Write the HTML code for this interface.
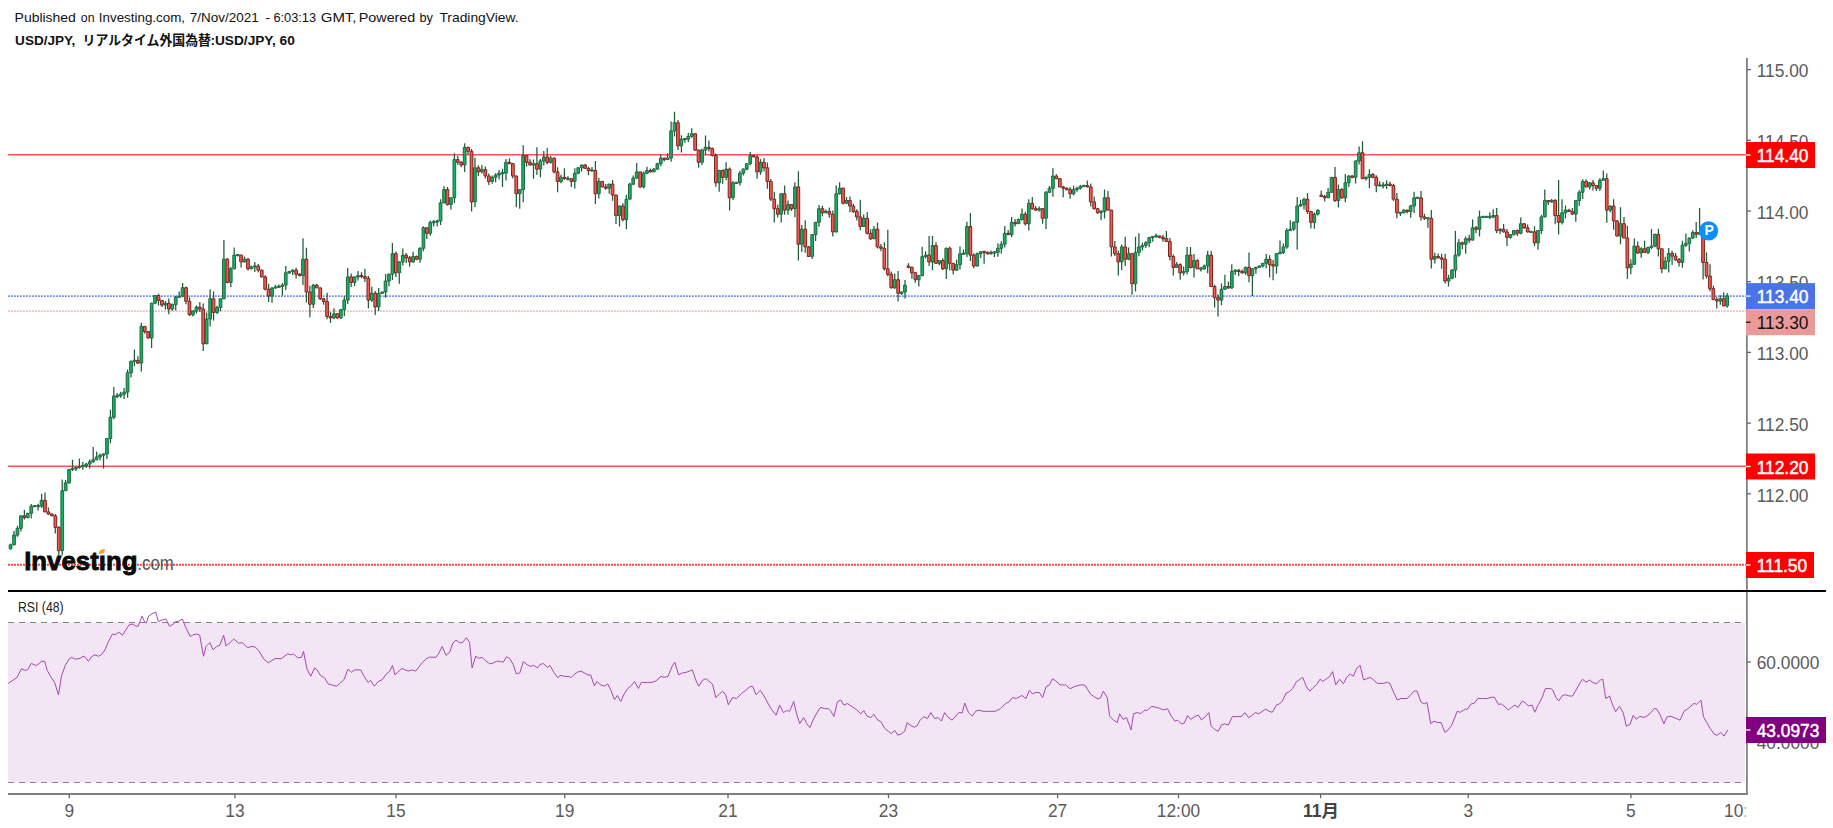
<!DOCTYPE html>
<html lang="ja"><head><meta charset="utf-8"><title>USD/JPY</title>
<style>html,body{margin:0;padding:0;background:#fff}body{width:1833px;height:828px;overflow:hidden}</style></head>
<body>
<svg width="1833" height="828" viewBox="0 0 1833 828" style="display:block">
<rect width="1833" height="828" fill="#fff"/>
<text y="22" font-family='"Liberation Sans", sans-serif' font-size="13.33" fill="#111"><tspan x="14.6" textLength="61.3" lengthAdjust="spacingAndGlyphs">Published</tspan> <tspan x="80.8" textLength="13.7" lengthAdjust="spacingAndGlyphs">on</tspan> <tspan x="98.8" textLength="86.3" lengthAdjust="spacingAndGlyphs">Investing.com,</tspan> <tspan x="189.8" textLength="69.0" lengthAdjust="spacingAndGlyphs">7/Nov/2021</tspan> <tspan x="265.2" textLength="4.8" lengthAdjust="spacingAndGlyphs">-</tspan> <tspan x="273.4" textLength="42.7" lengthAdjust="spacingAndGlyphs">6:03:13</tspan> <tspan x="320.8" textLength="35.7" lengthAdjust="spacingAndGlyphs">GMT,</tspan> <tspan x="358.8" textLength="56.5" lengthAdjust="spacingAndGlyphs">Powered</tspan> <tspan x="419.4" textLength="13.4" lengthAdjust="spacingAndGlyphs">by</tspan> <tspan x="439.4" textLength="79.2" lengthAdjust="spacingAndGlyphs">TradingView.</tspan></text>
<text y="44.8" font-family='"Liberation Sans", "Noto Sans CJK JP", sans-serif' font-weight="bold" font-size="13.1" fill="#111"><tspan x="15.1" textLength="60.3" lengthAdjust="spacingAndGlyphs">USD/JPY,</tspan> <tspan x="82.6" textLength="128.3" lengthAdjust="spacingAndGlyphs">リアルタイム外国為替</tspan><tspan x="210.4" textLength="84.4" lengthAdjust="spacingAndGlyphs">:USD/JPY, 60</tspan></text>
<line x1="8" x2="1746" y1="154.7" y2="154.7" stroke="#ff5353" stroke-width="1.4"/>
<line x1="8" x2="1746" y1="466.3" y2="466.3" stroke="#ff5353" stroke-width="1.4"/>
<line x1="8" x2="1746" y1="564.8" y2="564.8" stroke="#ff3c3c" stroke-width="2" stroke-dasharray="1.9 1.1"/>
<line x1="8" x2="1746" y1="296.1" y2="296.1" stroke="#6e8eec" stroke-width="1.8" stroke-dasharray="1.8 1.2"/>
<line x1="8" x2="1746" y1="311.1" y2="311.1" stroke="#f2bcbc" stroke-width="1.8" stroke-dasharray="1.8 1.2"/>
<path d="M10.6 543.5V549.4M14 531.1V545.2M17.5 525.7V536.7M20.9 515.4V531.5M24.4 510V519.4M27.8 513V518.2M31.2 504.1V518.6M34.7 505.7V506.8M38.1 503.7V510.6M41.6 493.8V507.9M45 492.4V512.3M48.4 507.6V515M51.9 513.5V516.3M55.3 514.3V533.5M58.8 526.3V555.7M62.2 479.4V555.5M65.6 479.9V491.1M69.1 469V483.8M72.5 459.7V470.9M76 466.4V471M79.4 458.6V468.5M82.8 461.9V469.8M86.3 463.1V467.9M89.7 459.5V468.4M93.2 447V462.7M96.6 451.6V460.3M100 453.7V460.6M103.5 453.4V468.6M106.9 438.1V459M110.4 409.8V443.2M113.8 386.9V419.2M117.2 393.1V398.2M120.7 391.7V397.7M124.1 387.9V399.1M127.6 369.4V397.7M131 360.8V377.6M134.4 349.6V366.2M137.9 356.2V364.1M141.3 322.7V371.6M144.8 326.1V333.7M148.2 330.9V338.5M151.6 302.7V348.1M155.1 294.9V304.2M158.5 293.8V305.5M162 300V307.1M165.4 300.9V309.6M168.8 298.4V314.2M172.3 303.5V310.7M175.7 295.8V310.4M179.2 291.4V297.9M182.6 283.1V297.2M186 286.6V304.2M189.5 297.3V316.1M192.9 310.6V316.5M196.4 305.6V313.5M199.8 302.1V312.1M203.2 303.5V351M206.7 312.4V344.2M210.1 289.5V326.4M213.6 291.5V320.6M217 305.8V314.1M220.4 298.3V311.2M223.9 240.1V299.3M227.3 258V283.3M230.8 266.9V287.3M234.2 247.5V269.5M237.6 254.7V256.3M241.1 254.8V267.5M244.5 256.5V262.5M248 258.1V270.4M251.4 265.6V269.2M254.8 262.1V272M258.3 264V272.2M261.7 269.7V277.4M265.2 275.2V290.5M268.6 284.1V302.1M272 287.5V302.8M275.5 285.1V288.4M278.9 284.4V287.4M282.4 283.1V295.5M285.8 266.1V290M289.2 270.7V274.1M292.7 269.5V275.1M296.1 267.7V278.4M299.6 273.1V276.3M303 238.2V285.1M306.4 247.8V302.4M309.9 285.7V317.3M313.3 283.9V308.1M316.8 283.8V288.2M320.2 287.5V300.1M323.6 297.9V304.8M327.1 292.8V319.3M330.5 311.8V323M334 308.2V319.3M337.4 313V318.7M340.8 308.9V318.7M344.3 296.4V316.2M347.7 268V304M351.2 273.5V287M354.6 276.5V285.9M358 271.1V280.6M361.5 272.3V278.3M364.9 268.8V282.1M368.4 276.1V308.2M371.8 286.8V301.9M375.2 291V315.1M378.7 287.9V311.1M382.1 291.5V293.9M385.6 274.1V297.8M389 273.6V286.2M392.4 243.1V280M395.9 251.5V277.1M399.3 261.3V283.8M402.8 248.6V265.5M406.2 252.9V262.9M409.6 256V266.8M413.1 251.7V262.7M416.5 255.6V260.2M420 247.2V262.8M423.4 226.3V251.2M426.8 227.3V238.9M430.3 220.6V235.8M433.7 219.9V226.6M437.2 219.5V226.6M440.6 199.3V224.9M444 186.3V203.2M447.5 186.9V205.5M450.9 197.5V209.5M454.4 153.6V202.9M457.8 156.1V164.7M461.2 161.1V167.2M464.7 143.2V172M468.1 146.8V153.9M471.6 148.9V211.4M475 157.7V207.2M478.4 165.2V175.9M481.9 165V173.6M485.3 166.5V178.4M488.8 173.6V185.1M492.2 175.4V183.8M495.6 173.2V182.3M499.1 170.1V179.5M502.5 168.8V186.9M506 158.9V180.6M509.4 158.3V164.2M512.8 163.1V178.5M516.3 175.5V207.3M519.7 189.2V208.7M523.2 145.2V202.3M526.6 154.9V166.5M530 159.3V165.6M533.5 159.4V178.7M536.9 147.3V175.1M540.4 159.1V177.3M543.8 150.9V165.5M547.2 148.1V164.2M550.7 155.9V163.6M554.1 157.3V173.5M557.6 167.2V192.3M561 174.8V183.3M564.4 168.3V179.8M567.9 176.3V180.5M571.3 178.3V186.9M574.8 168.2V188.4M578.2 167.3V174.3M581.6 164.7V171.6M585.1 164.1V168.9M588.5 166.8V175.2M592 166.9V171.3M595.4 160.9V204M598.8 177.8V198.6M602.3 181V187.2M605.7 183.9V189.8M609.2 183.8V193.7M612.6 180.1V200.8M616 194.6V224.1M619.5 205.6V226.5M622.9 203.3V221.5M626.4 194.7V229.3M629.8 182.8V199.8M633.2 175.5V185.1M636.7 162.9V178.7M640.1 171.5V187.9M643.6 171.6V188.5M647 166.8V174.3M650.4 168.6V172.5M653.9 167.9V172.2M657.3 162.7V169.4M660.8 154.2V166.3M664.2 157.6V161.4M667.6 153.3V160M671.1 121.4V161.7M674.5 111.8V136.4M678 119.9V150.1M681.4 135.2V152.6M684.8 138V142.8M688.3 133V142M691.7 128.2V137.7M695.2 133.3V150.7M698.6 149.6V167.7M702 148.8V165M705.5 135.6V154.4M708.9 140.5V151.6M712.4 147.5V156.5M715.8 153.4V186.7M719.2 169.8V191.8M722.7 169.4V183.8M726.1 162.2V180.3M729.6 167.5V210.5M733 181.1V199.8M736.4 182.5V184M739.9 170.7V185.5M743.3 168.4V175.4M746.8 163.4V170.2M750.2 151.9V165.6M753.6 155.2V157.2M757.1 155.2V178.7M760.5 158.9V174.8M764 158.1V171.2M767.4 162.4V188.7M770.8 178.9V201.1M774.3 191.7V222.4M777.7 204.7V217.5M781.2 193.3V222.4M784.6 185.6V214.8M788 200.6V214.8M791.5 204.1V211M794.9 182.2V217.3M798.4 171.3V260.5M801.8 225.1V252M805.2 220.2V252.7M808.7 245.9V256.8M812.1 233.9V258.9M815.6 221.8V241.1M819 205V226.7M822.4 205.7V216.2M825.9 209.6V213.1M829.3 207.4V217.8M832.8 210.6V236.6M836.2 185.2V232.4M839.6 182.2V194.7M843.1 187.8V204.6M846.5 197V204M850 196.4V212.2M853.4 203.7V213.1M856.8 209.3V220.5M860.3 199.7V230.2M863.7 214.5V226.9M867.2 212V234.6M870.6 229.2V239.9M874 225.9V239M877.5 222.4V248.4M880.9 244V251.3M884.4 242.3V270.5M887.8 229.7V276.3M891.2 271.4V288.4M894.7 273.6V288.7M898.1 271.1V301.4M901.6 291.6V295M905 280.1V298.5M908.4 263.3V268.3M911.9 266.6V278.8M915.3 272V282.7M918.8 275V286.5M922.2 246.7V276.3M925.6 251.2V258.4M929.1 236V266M932.5 236V270.2M936 242.2V263.6M939.4 260.3V265.3M942.8 258.3V270.1M946.3 247.5V278.9M949.7 246.6V270.4M953.2 263V274.6M956.6 259.7V270.6M960 246.6V269.5M963.5 249.6V254.7M966.9 221.8V256.9M970.4 213.1V261M973.8 253.3V268.3M977.2 252.4V266.4M980.7 251.3V257.9M984.1 250.8V263.8M987.6 251.5V254.6M991 250.4V254.4M994.4 251.1V256.9M997.9 243.3V256.8M1001.3 241.2V253.5M1004.8 225.9V247.5M1008.2 230.1V235M1011.6 217.1V237.2M1015.1 218.9V226.5M1018.5 218.6V224.1M1022 208.4V220.2M1025.4 211.7V225.4M1028.8 199.2V230.6M1032.3 197V209.7M1035.7 205.9V211.1M1039.2 206.5V211.5M1042.6 208V223.7M1046 191V229M1049.5 186.1V193.1M1052.9 168.3V196.7M1056.4 174.2V179.2M1059.8 177.9V187.3M1063.2 185.7V197.2M1066.7 187.4V190.5M1070.1 187V198.7M1073.6 185.7V195.4M1077 186.7V191.7M1080.4 185V189.4M1083.9 185.2V187.2M1087.3 180.6V187.4M1090.8 183.6V206.5M1094.2 196.4V209.6M1097.6 207.7V213.7M1101.1 210V220.2M1104.5 189.5V218.4M1108 190.9V210.4M1111.4 209.7V256.5M1114.8 241.1V256M1118.3 250.5V275.6M1121.7 244.6V270.2M1125.2 236.8V265.9M1128.6 247.6V260.2M1132 253.1V294.7M1135.5 236.8V291.6M1138.9 233.3V256.3M1142.4 242.8V250.4M1145.8 241V247.9M1149.2 237V247.3M1152.7 235.9V241.8M1156.1 233.4V237.7M1159.6 235.5V238.2M1163 234.7V241.8M1166.4 231.1V241.8M1169.9 238V260.6M1173.3 254.5V275.6M1176.8 262V267.7M1180.2 263.3V279.7M1183.6 266.6V275.6M1187.1 247.1V274.6M1190.5 246.9V268.6M1194 254.1V277.5M1197.4 259.2V269.1M1200.8 267V271.5M1204.3 264.4V269.7M1207.7 250.7V273.2M1211.2 251V286.9M1214.6 284.8V307.5M1218 294.2V316.5M1221.5 283.5V305.2M1224.9 274.8V289.9M1228.4 281.5V288.9M1231.8 264.3V289.1M1235.2 269.4V275M1238.7 269.1V276.3M1242.1 269.6V273.5M1245.6 266.5V274.7M1249 252.4V282.3M1252.4 268.2V296M1255.9 266.7V273.8M1259.3 265.5V267.7M1262.8 262.9V267.5M1266.2 254.1V268.3M1269.6 255.2V277.5M1273.1 260V280.2M1276.5 252.9V273.7M1280 240.6V254.1M1283.4 243.4V254M1286.8 228.3V248.8M1290.3 220.2V230.8M1293.7 221.2V230.7M1297.2 196.9V249.7M1300.6 199.7V206.7M1304 197.7V209.4M1307.5 192.9V213.9M1310.9 211.1V228.4M1314.4 212.4V228.7M1317.8 209.4V215.6M1321.2 190.6V196.7M1324.7 194.9V201.6M1328.1 188V198.1M1331.6 177V192.7M1335 167V202.1M1338.4 184.4V207.4M1341.9 188.1V199M1345.3 174.1V202.3M1348.8 174.9V186.9M1352.2 174.9V178.2M1355.6 160.6V183.6M1359.1 146.4V164.6M1362.5 141.3V179M1366 176.5V180.5M1369.4 169.3V188.2M1372.8 173.1V178.2M1376.3 175.2V192.3M1379.7 181.2V186.1M1383.2 182V188.6M1386.6 180.3V189.1M1390 181.6V186.6M1393.5 183.8V201.1M1396.9 193.1V218.3M1400.4 212.2V216M1403.8 209.2V213.2M1407.2 209.8V213.6M1410.7 204.7V217.7M1414.1 191.8V213.1M1417.6 197V198.2M1421 191V220.6M1424.4 213.8V219.9M1427.9 217.5V227.8M1431.3 210.1V268.4M1434.8 252.8V263.6M1438.2 253.6V258.3M1441.6 253.8V268.8M1445.1 253.7V283.6M1448.5 274.7V286.5M1452 269.1V279.3M1455.4 231.1V277.8M1458.8 239.1V256.8M1462.3 241.4V249.3M1465.7 236.4V253.7M1469.2 234.9V242.9M1472.6 219.5V240.6M1476 226V233M1479.5 210.4V236.6M1482.9 216.6V217.8M1486.4 216.4V217.5M1489.8 212.3V219.1M1493.2 209.3V218.2M1496.7 208.1V233.3M1500.1 228.3V234.1M1503.6 224V232.4M1507 228.9V246.1M1510.4 233.9V238.7M1513.9 230V235.4M1517.3 229.6V235.9M1520.8 217.4V234.2M1524.2 223.4V229.1M1527.6 224.4V232.6M1531.1 230.9V232.6M1534.5 226.2V246.1M1538 230.1V249.7M1541.4 214.7V234.1M1544.8 189.6V217.4M1548.3 200V204.9M1551.7 199V202.8M1555.2 198.9V224.2M1558.6 180.1V234.6M1562 199.2V224.5M1565.5 205.6V218.4M1568.9 208.8V212.1M1572.4 207.9V214.9M1575.8 200.2V221.8M1579.2 190.3V205.9M1582.7 179.3V199M1586.1 179.3V187.5M1589.6 182.5V189.4M1593 179.9V190.4M1596.4 185.1V191M1599.9 178.3V190.9M1603.3 170.5V181M1606.8 173.5V222.7M1610.2 205.5V212.2M1613.6 199.3V229.8M1617.1 220V236.6M1620.5 207.2V244.2M1624 217.1V238.4M1627.4 225.8V278.7M1630.8 259.2V274.2M1634.3 238.5V265.1M1637.7 241.4V253.9M1641.2 247.2V257.7M1644.6 240.7V253.1M1648 246.7V254.1M1651.5 228.9V248.9M1654.9 233.8V247.3M1658.4 228.8V256.6M1661.8 248.5V273.2M1665.2 256.7V269.1M1668.7 247.9V272.4M1672.1 250.7V265.1M1675.6 253.1V260.9M1679 258.1V266.6M1682.4 240.7V267.7M1685.9 233.4V246.9M1689.3 237.7V251.6M1692.8 230.3V238.9M1696.2 222V238M1699.6 208.1V235M1703.1 228.2V279.6M1706.5 252.5V278.5M1710 264.2V291.2M1713.4 285.8V299.9M1716.8 296.9V308.6M1720.3 295.2V304.8M1723.7 292.3V306.3M1727.2 293.1V307.8" stroke="#1f5c3a" stroke-width="1.25" fill="none"/>
<path d="M9.2 544.8h2.7v4h-2.7zM12.7 535.1h2.7v9.7h-2.7zM16.1 528.4h2.7v6.7h-2.7zM19.6 515.8h2.7v12.6h-2.7zM26.4 513.3h2.7v4.4h-2.7zM29.9 506.1h2.7v7.2h-2.7zM33.3 505.5h2.7v1.2h-2.7zM36.8 505.5h2.7v1.2h-2.7zM40.2 500.3h2.7v5.8h-2.7zM60.9 490.7h2.7v59.9h-2.7zM64.3 482.8h2.7v7.9h-2.7zM67.7 469.4h2.7v13.4h-2.7zM71.2 468.4h2.7v1.2h-2.7zM74.6 467.5h2.7v1.2h-2.7zM78 466.5h2.7v1.2h-2.7zM81.5 465.5h2.7v1.2h-2.7zM84.9 464h2.7v1.6h-2.7zM88.4 461.7h2.7v2.3h-2.7zM91.8 459.8h2.7v1.9h-2.7zM95.2 457h2.7v2.8h-2.7zM98.7 455.2h2.7v1.8h-2.7zM102.1 453.9h2.7v1.3h-2.7zM105.6 438.5h2.7v15.5h-2.7zM109 417.2h2.7v21.3h-2.7zM112.5 396h2.7v21.3h-2.7zM115.9 395.4h2.7v1.2h-2.7zM119.3 394.1h2.7v1.9h-2.7zM122.8 392.1h2.7v2h-2.7zM126.2 372.8h2.7v19.3h-2.7zM129.7 361.2h2.7v11.6h-2.7zM133.1 360.2h2.7v1.2h-2.7zM140 326.4h2.7v36.7h-2.7zM150.3 303.2h2.7v34.8h-2.7zM153.7 295.5h2.7v7.7h-2.7zM164.1 303.2h2.7v1.9h-2.7zM170.9 304.6h2.7v4.4h-2.7zM174.4 297.4h2.7v7.2h-2.7zM177.8 296.2h2.7v1.2h-2.7zM181.2 287.7h2.7v8.5h-2.7zM191.6 310.9h2.7v3.9h-2.7zM195 307.1h2.7v3.9h-2.7zM205.3 319h2.7v24.7h-2.7zM208.8 298.8h2.7v20.3h-2.7zM215.7 307.5h2.7v5h-2.7zM219.1 298.8h2.7v8.7h-2.7zM222.5 259.2h2.7v39.6h-2.7zM229.4 268.8h2.7v13.6h-2.7zM232.8 255.1h2.7v13.6h-2.7zM236.3 254.5h2.7v1.2h-2.7zM243.2 259.2h2.7v2.7h-2.7zM250 266.9h2.7v1.8h-2.7zM253.5 265.9h2.7v1.2h-2.7zM270.7 287.9h2.7v8.2h-2.7zM274.1 286.9h2.7v1.2h-2.7zM277.6 286.2h2.7v1.2h-2.7zM281 285.1h2.7v1.4h-2.7zM284.4 272.8h2.7v12.3h-2.7zM287.9 271.6h2.7v1.3h-2.7zM291.3 270.1h2.7v1.5h-2.7zM301.6 259.2h2.7v16.4h-2.7zM312 285.1h2.7v19.1h-2.7zM332.6 313.8h2.7v4.1h-2.7zM339.5 309.7h2.7v8.2h-2.7zM342.9 300.1h2.7v9.6h-2.7zM346.4 276.9h2.7v23.2h-2.7zM353.2 276.9h2.7v5.5h-2.7zM356.7 275.6h2.7v1.4h-2.7zM370.4 293.3h2.7v6.8h-2.7zM377.3 293.3h2.7v13.6h-2.7zM380.8 292h2.7v1.4h-2.7zM384.2 281h2.7v10.9h-2.7zM387.6 274.2h2.7v6.8h-2.7zM391.1 253.7h2.7v20.5h-2.7zM398 261.9h2.7v10.9h-2.7zM401.4 255.1h2.7v6.8h-2.7zM411.7 256.5h2.7v5.5h-2.7zM418.6 248.3h2.7v10.9h-2.7zM422.1 227.8h2.7v20.5h-2.7zM428.9 222.4h2.7v10.9h-2.7zM432.4 221.6h2.7v1.2h-2.7zM435.8 220.9h2.7v1.2h-2.7zM439.2 202.9h2.7v18.1h-2.7zM442.7 189.6h2.7v13.3h-2.7zM449.6 197.8h2.7v6.8h-2.7zM453 159.6h2.7v38.2h-2.7zM463.3 147.3h2.7v17.7h-2.7zM473.6 167.8h2.7v34.1h-2.7zM480.5 169.7h2.7v2.1h-2.7zM490.8 177.3h2.7v4.1h-2.7zM494.3 175.1h2.7v2.2h-2.7zM497.7 173.2h2.7v1.8h-2.7zM501.2 172.6h2.7v1.2h-2.7zM504.6 162.3h2.7v10.9h-2.7zM518.4 189.6h2.7v4.1h-2.7zM521.8 155.5h2.7v34.1h-2.7zM532.1 163.7h2.7v1.4h-2.7zM539 160.9h2.7v8.2h-2.7zM542.5 156.9h2.7v4.1h-2.7zM549.3 158.2h2.7v4.1h-2.7zM559.6 177.3h2.7v4.1h-2.7zM566.5 178.1h2.7v1.2h-2.7zM573.4 173.2h2.7v8.2h-2.7zM576.9 167.8h2.7v5.5h-2.7zM580.3 165h2.7v2.7h-2.7zM590.6 169.9h2.7v1.2h-2.7zM597.5 181.4h2.7v12.3h-2.7zM607.8 184.1h2.7v4.1h-2.7zM618.1 206h2.7v9.6h-2.7zM625 199.2h2.7v20.5h-2.7zM628.5 184.1h2.7v15h-2.7zM631.9 178.1h2.7v6.1h-2.7zM635.3 171.9h2.7v6.2h-2.7zM642.2 173.2h2.7v13.6h-2.7zM645.6 170.5h2.7v2.7h-2.7zM652.5 169.1h2.7v2.7h-2.7zM656 163.7h2.7v5.5h-2.7zM659.4 158.2h2.7v5.5h-2.7zM666.3 158.1h2.7v1.5h-2.7zM669.7 130.9h2.7v27.1h-2.7zM673.2 122.7h2.7v8.2h-2.7zM680 139.1h2.7v6.8h-2.7zM683.5 138.5h2.7v1.2h-2.7zM686.9 136.4h2.7v2.7h-2.7zM690.4 133.7h2.7v2.7h-2.7zM700.7 150h2.7v12.3h-2.7zM704.1 147.3h2.7v2.7h-2.7zM717.9 170.5h2.7v12.3h-2.7zM724.8 169.1h2.7v8.2h-2.7zM731.6 182.8h2.7v15h-2.7zM735.1 182.2h2.7v1.2h-2.7zM738.5 173.2h2.7v9.6h-2.7zM742 169.1h2.7v4.1h-2.7zM745.4 163.7h2.7v5.5h-2.7zM748.9 155.5h2.7v8.2h-2.7zM759.2 162.3h2.7v9.6h-2.7zM779.8 193.7h2.7v20.5h-2.7zM786.7 204.6h2.7v5.5h-2.7zM793.6 186.9h2.7v21.8h-2.7zM800.4 229.2h2.7v15h-2.7zM810.8 234.6h2.7v21.8h-2.7zM814.2 222.4h2.7v12.3h-2.7zM817.6 208.7h2.7v13.6h-2.7zM824.5 211.4h2.7v1.4h-2.7zM834.9 193.7h2.7v38.2h-2.7zM838.3 188.2h2.7v5.5h-2.7zM845.2 200.5h2.7v2.7h-2.7zM862.4 218.3h2.7v8.2h-2.7zM872.7 229.2h2.7v9.6h-2.7zM893.3 279.7h2.7v8.2h-2.7zM900.2 292h2.7v1.4h-2.7zM903.6 285.1h2.7v6.8h-2.7zM917.4 275.6h2.7v4.1h-2.7zM920.9 256.5h2.7v19.1h-2.7zM924.3 255.1h2.7v1.4h-2.7zM931.2 245.6h2.7v16.4h-2.7zM938 260.6h2.7v2.7h-2.7zM944.9 248.3h2.7v20.5h-2.7zM955.2 264.7h2.7v5.5h-2.7zM958.7 253.7h2.7v10.9h-2.7zM962.1 253.1h2.7v1.2h-2.7zM965.6 226.5h2.7v27.3h-2.7zM975.9 253.7h2.7v12.3h-2.7zM979.3 251.7h2.7v2.1h-2.7zM989.6 252.4h2.7v1.4h-2.7zM993.1 251.8h2.7v1.2h-2.7zM996.5 248.3h2.7v4.1h-2.7zM1000 244.2h2.7v4.1h-2.7zM1003.4 233.3h2.7v10.9h-2.7zM1010.3 222.4h2.7v12.3h-2.7zM1017.2 219.6h2.7v4.1h-2.7zM1020.6 214.2h2.7v5.5h-2.7zM1027.5 203.3h2.7v20.5h-2.7zM1037.8 208.7h2.7v1.4h-2.7zM1044.7 192.3h2.7v25.9h-2.7zM1048.1 188.2h2.7v4.1h-2.7zM1051.6 176h2.7v12.3h-2.7zM1072.2 189.6h2.7v4.1h-2.7zM1075.7 188.2h2.7v1.4h-2.7zM1079.1 186.3h2.7v1.9h-2.7zM1082.5 185.3h2.7v1.2h-2.7zM1099.7 211.4h2.7v1.4h-2.7zM1103.2 197.8h2.7v13.6h-2.7zM1120.4 246.9h2.7v15h-2.7zM1127.2 253.7h2.7v5.5h-2.7zM1134.1 252.4h2.7v31.4h-2.7zM1137.6 246.9h2.7v5.5h-2.7zM1141 245.6h2.7v1.4h-2.7zM1144.5 242.8h2.7v2.7h-2.7zM1147.9 237.4h2.7v5.5h-2.7zM1151.3 236.4h2.7v1.2h-2.7zM1154.8 235.7h2.7v1.2h-2.7zM1175.4 264.7h2.7v2.7h-2.7zM1182.3 271.5h2.7v1.4h-2.7zM1185.7 255.1h2.7v16.4h-2.7zM1192.6 260.6h2.7v6.8h-2.7zM1199.5 268.2h2.7v1.2h-2.7zM1202.9 266h2.7v2.7h-2.7zM1206.4 255.1h2.7v10.9h-2.7zM1220.1 289.2h2.7v10.9h-2.7zM1223.6 286.5h2.7v2.7h-2.7zM1230.5 271.5h2.7v16.4h-2.7zM1233.9 270.1h2.7v1.4h-2.7zM1244.2 267.4h2.7v5.5h-2.7zM1251.1 268.8h2.7v6.8h-2.7zM1254.5 267.4h2.7v1.4h-2.7zM1258 266h2.7v1.4h-2.7zM1261.4 263.3h2.7v2.7h-2.7zM1264.8 259.2h2.7v4.1h-2.7zM1275.2 253.7h2.7v12.3h-2.7zM1278.6 252.4h2.7v1.4h-2.7zM1282 246.9h2.7v5.5h-2.7zM1285.5 230.5h2.7v16.4h-2.7zM1288.9 229.2h2.7v1.4h-2.7zM1292.4 222.4h2.7v6.8h-2.7zM1295.8 206h2.7v16.4h-2.7zM1299.2 204.6h2.7v1.4h-2.7zM1302.7 199.2h2.7v5.5h-2.7zM1313 214.2h2.7v8.2h-2.7zM1316.5 210.1h2.7v4.1h-2.7zM1326.8 192.3h2.7v5.5h-2.7zM1330.2 177.3h2.7v15h-2.7zM1337.1 189.6h2.7v10.9h-2.7zM1344 182.8h2.7v15h-2.7zM1347.4 176h2.7v6.8h-2.7zM1354.3 160.9h2.7v16.4h-2.7zM1357.7 152.8h2.7v8.2h-2.7zM1364.6 177.3h2.7v1.4h-2.7zM1368 174.6h2.7v2.7h-2.7zM1378.4 184.9h2.7v1.2h-2.7zM1381.8 184.9h2.7v1.2h-2.7zM1385.2 184.1h2.7v1.4h-2.7zM1399 212.2h2.7v1.2h-2.7zM1402.5 210.1h2.7v2.7h-2.7zM1409.3 206h2.7v5.5h-2.7zM1412.8 197.8h2.7v8.2h-2.7zM1416.2 197.2h2.7v1.2h-2.7zM1426.5 217.7h2.7v1.2h-2.7zM1433.4 256.5h2.7v2.7h-2.7zM1447.2 278.3h2.7v2.7h-2.7zM1450.6 270.1h2.7v8.2h-2.7zM1454 255.1h2.7v15h-2.7zM1457.5 242.8h2.7v12.3h-2.7zM1464.4 238.7h2.7v5.5h-2.7zM1471.2 227.8h2.7v12.3h-2.7zM1478.1 216.9h2.7v12.3h-2.7zM1481.6 216.3h2.7v1.2h-2.7zM1485 216.3h2.7v1.2h-2.7zM1488.5 216.3h2.7v1.2h-2.7zM1491.9 215.5h2.7v1.4h-2.7zM1498.8 229.2h2.7v1.4h-2.7zM1509.1 234.6h2.7v2.7h-2.7zM1512.5 230.5h2.7v4.1h-2.7zM1519.4 223.7h2.7v9.6h-2.7zM1529.7 231.3h2.7v1.2h-2.7zM1536.6 230.5h2.7v12.3h-2.7zM1540 216.9h2.7v13.6h-2.7zM1543.5 200.5h2.7v16.4h-2.7zM1550.4 200.5h2.7v1.4h-2.7zM1560.7 212.8h2.7v9.6h-2.7zM1564.1 210.1h2.7v2.7h-2.7zM1574.5 200.5h2.7v13.6h-2.7zM1577.9 192.3h2.7v8.2h-2.7zM1581.3 181.4h2.7v10.9h-2.7zM1588.2 182.8h2.7v4.1h-2.7zM1598.5 180.1h2.7v8.2h-2.7zM1602 178.7h2.7v1.4h-2.7zM1608.8 206h2.7v4.1h-2.7zM1619.2 223.7h2.7v12.3h-2.7zM1629.5 264.2h2.7v3.6h-2.7zM1632.9 246.1h2.7v18.1h-2.7zM1639.8 248.8h2.7v4.2h-2.7zM1646.7 247.5h2.7v5h-2.7zM1650.1 246.1h2.7v1.4h-2.7zM1653.6 234.3h2.7v11.8h-2.7zM1663.9 261.3h2.7v7.5h-2.7zM1667.3 253.4h2.7v7.9h-2.7zM1681.1 245.2h2.7v17.2h-2.7zM1684.5 243.4h2.7v1.8h-2.7zM1688 238h2.7v5.4h-2.7zM1691.4 232.5h2.7v5.4h-2.7zM1698.3 232.5h2.7v1.8h-2.7zM1718.9 298.7h2.7v2.4h-2.7zM1725.8 295.9h2.7v10h-2.7z" fill="#14b164" stroke="#1f6a41" stroke-width="1"/>
<path d="M23 515.8h2.7v1.9h-2.7zM43.6 500.3h2.7v11.6h-2.7zM47.1 511.9h2.7v2.1h-2.7zM50.5 514h2.7v1.8h-2.7zM54 515.8h2.7v11.6h-2.7zM57.4 527.4h2.7v23.2h-2.7zM136.5 360.4h2.7v2.7h-2.7zM143.4 326.4h2.7v5.2h-2.7zM146.8 331.6h2.7v6.4h-2.7zM157.2 295.5h2.7v4.9h-2.7zM160.6 300.4h2.7v4.7h-2.7zM167.5 303.2h2.7v5.8h-2.7zM184.7 287.7h2.7v13.5h-2.7zM188.1 301.3h2.7v13.5h-2.7zM198.4 307.1h2.7v1.9h-2.7zM201.9 309h2.7v34.8h-2.7zM212.2 298.8h2.7v13.6h-2.7zM226 259.2h2.7v23.2h-2.7zM239.7 255.1h2.7v6.8h-2.7zM246.6 259.2h2.7v9.6h-2.7zM256.9 266h2.7v4.1h-2.7zM260.4 270.1h2.7v6.8h-2.7zM263.8 276.9h2.7v12.3h-2.7zM267.2 289.2h2.7v6.8h-2.7zM294.8 270.1h2.7v4.1h-2.7zM298.2 274.2h2.7v1.4h-2.7zM305.1 259.2h2.7v32.8h-2.7zM308.5 292h2.7v12.3h-2.7zM315.4 285.1h2.7v2.7h-2.7zM318.9 287.9h2.7v10.9h-2.7zM322.3 298.8h2.7v2.7h-2.7zM325.7 301.5h2.7v15h-2.7zM329.2 316.5h2.7v1.4h-2.7zM336.1 313.8h2.7v4.1h-2.7zM349.8 276.9h2.7v5.5h-2.7zM360.1 275.4h2.7v1.2h-2.7zM363.6 276.5h2.7v1.8h-2.7zM367 278.3h2.7v21.8h-2.7zM373.9 293.3h2.7v13.6h-2.7zM394.5 253.7h2.7v19.1h-2.7zM404.8 255.1h2.7v2.7h-2.7zM408.3 257.8h2.7v4.1h-2.7zM415.2 256.5h2.7v2.7h-2.7zM425.5 227.8h2.7v5.5h-2.7zM446.1 189.6h2.7v15h-2.7zM456.4 159.6h2.7v2.7h-2.7zM459.9 162.3h2.7v2.7h-2.7zM466.8 147.3h2.7v4h-2.7zM470.2 151.3h2.7v50.6h-2.7zM477.1 167.8h2.7v4.1h-2.7zM484 169.7h2.7v6.2h-2.7zM487.4 176h2.7v5.5h-2.7zM508.1 162.3h2.7v1.4h-2.7zM511.5 163.7h2.7v12.3h-2.7zM514.9 176h2.7v17.7h-2.7zM525.2 155.5h2.7v6.8h-2.7zM528.7 162.3h2.7v2.7h-2.7zM535.6 163.7h2.7v5.5h-2.7zM545.9 156.9h2.7v5.5h-2.7zM552.8 158.2h2.7v13.6h-2.7zM556.2 171.9h2.7v9.6h-2.7zM563.1 177.3h2.7v1.4h-2.7zM570 178.7h2.7v2.7h-2.7zM583.7 165h2.7v3.3h-2.7zM587.2 168.4h2.7v2.1h-2.7zM594 170.5h2.7v23.2h-2.7zM600.9 181.4h2.7v5.5h-2.7zM604.4 186.9h2.7v1.4h-2.7zM611.2 184.1h2.7v10.9h-2.7zM614.7 195.1h2.7v20.5h-2.7zM621.6 206h2.7v13.6h-2.7zM638.8 171.9h2.7v15h-2.7zM649.1 170.5h2.7v1.4h-2.7zM662.9 158.2h2.7v1.4h-2.7zM676.6 122.7h2.7v23.2h-2.7zM693.8 133.7h2.7v16.4h-2.7zM697.2 150h2.7v12.3h-2.7zM707.6 147.3h2.7v1.4h-2.7zM711 148.7h2.7v6.8h-2.7zM714.5 155.5h2.7v27.3h-2.7zM721.3 170.5h2.7v6.8h-2.7zM728.2 169.1h2.7v28.7h-2.7zM752.3 155.5h2.7v1.4h-2.7zM755.7 156.9h2.7v15h-2.7zM762.6 162.3h2.7v5.5h-2.7zM766 167.8h2.7v13.6h-2.7zM769.5 181.4h2.7v17.7h-2.7zM772.9 199.2h2.7v9.6h-2.7zM776.4 208.7h2.7v5.5h-2.7zM783.2 193.7h2.7v16.4h-2.7zM790.1 204.6h2.7v4.1h-2.7zM797 186.9h2.7v57.3h-2.7zM803.9 229.2h2.7v17.7h-2.7zM807.3 246.9h2.7v9.6h-2.7zM821.1 208.7h2.7v4.1h-2.7zM828 211.4h2.7v2.7h-2.7zM831.4 214.2h2.7v17.7h-2.7zM841.7 188.2h2.7v15h-2.7zM848.6 200.5h2.7v5.5h-2.7zM852 206h2.7v5.5h-2.7zM855.5 211.4h2.7v5.5h-2.7zM858.9 216.9h2.7v9.6h-2.7zM865.8 218.3h2.7v15h-2.7zM869.2 233.3h2.7v5.5h-2.7zM876.1 229.2h2.7v17.7h-2.7zM879.6 246.9h2.7v1.4h-2.7zM883 248.3h2.7v20.5h-2.7zM886.4 268.8h2.7v5.5h-2.7zM889.9 274.2h2.7v13.6h-2.7zM896.8 279.7h2.7v13.6h-2.7zM907.1 266h2.7v1.4h-2.7zM910.5 267.4h2.7v5.5h-2.7zM914 272.8h2.7v6.8h-2.7zM927.7 255.1h2.7v6.8h-2.7zM934.6 245.6h2.7v17.7h-2.7zM941.5 260.6h2.7v8.2h-2.7zM948.4 248.3h2.7v15h-2.7zM951.8 263.3h2.7v6.8h-2.7zM969 226.5h2.7v28.7h-2.7zM972.4 255.1h2.7v10.9h-2.7zM982.8 251.4h2.7v1.2h-2.7zM986.2 252.4h2.7v1.4h-2.7zM1006.9 233.3h2.7v1.4h-2.7zM1013.7 222.4h2.7v1.4h-2.7zM1024 214.2h2.7v9.6h-2.7zM1030.9 203.3h2.7v5.5h-2.7zM1034.4 208.7h2.7v1.4h-2.7zM1041.2 208.7h2.7v9.6h-2.7zM1055 176h2.7v2.7h-2.7zM1058.5 178.7h2.7v8.2h-2.7zM1061.9 186.9h2.7v1.4h-2.7zM1065.3 188.2h2.7v1.4h-2.7zM1068.8 189.6h2.7v4.1h-2.7zM1086 185.5h2.7v1.4h-2.7zM1089.4 186.9h2.7v15h-2.7zM1092.8 201.9h2.7v6.8h-2.7zM1096.3 208.7h2.7v4.1h-2.7zM1106.6 197.8h2.7v12.3h-2.7zM1110 210.1h2.7v36.8h-2.7zM1113.5 246.9h2.7v6.8h-2.7zM1116.9 253.7h2.7v8.2h-2.7zM1123.8 246.9h2.7v12.3h-2.7zM1130.7 253.7h2.7v30h-2.7zM1158.2 236h2.7v1.4h-2.7zM1161.7 237.4h2.7v1.4h-2.7zM1165.1 238.7h2.7v2.7h-2.7zM1168.5 241.5h2.7v15h-2.7zM1172 256.5h2.7v10.9h-2.7zM1178.8 264.7h2.7v8.2h-2.7zM1189.2 255.1h2.7v12.3h-2.7zM1196 260.6h2.7v8.2h-2.7zM1209.8 255.1h2.7v31.4h-2.7zM1213.2 286.5h2.7v10.9h-2.7zM1216.7 297.4h2.7v2.7h-2.7zM1227 286.5h2.7v1.4h-2.7zM1237.3 270.1h2.7v1.4h-2.7zM1240.8 271.5h2.7v1.4h-2.7zM1247.7 267.4h2.7v8.2h-2.7zM1268.3 259.2h2.7v5.5h-2.7zM1271.7 264.7h2.7v1.4h-2.7zM1306.1 199.2h2.7v12.3h-2.7zM1309.6 211.4h2.7v10.9h-2.7zM1319.9 195.1h2.7v1.4h-2.7zM1323.3 196.4h2.7v1.4h-2.7zM1333.7 177.3h2.7v23.2h-2.7zM1340.5 189.6h2.7v8.2h-2.7zM1350.8 176h2.7v1.4h-2.7zM1361.2 152.8h2.7v25.9h-2.7zM1371.5 174.6h2.7v2.7h-2.7zM1374.9 177.3h2.7v8.2h-2.7zM1388.7 184.1h2.7v1.4h-2.7zM1392.1 185.5h2.7v13.6h-2.7zM1395.6 199.2h2.7v13.6h-2.7zM1405.9 210.1h2.7v1.4h-2.7zM1419.7 197.8h2.7v19.1h-2.7zM1423.1 216.9h2.7v1.4h-2.7zM1430 218.3h2.7v40.9h-2.7zM1436.8 256.5h2.7v1.4h-2.7zM1440.3 257.8h2.7v1.4h-2.7zM1443.7 259.2h2.7v21.8h-2.7zM1460.9 242.8h2.7v1.4h-2.7zM1467.8 238.7h2.7v1.4h-2.7zM1474.7 227.8h2.7v1.4h-2.7zM1495.3 215.5h2.7v15h-2.7zM1502.2 229.2h2.7v2.7h-2.7zM1505.6 231.9h2.7v5.5h-2.7zM1516 230.5h2.7v2.7h-2.7zM1522.8 223.7h2.7v4.1h-2.7zM1526.3 227.8h2.7v4.1h-2.7zM1533.2 231.9h2.7v10.9h-2.7zM1546.9 200.5h2.7v1.4h-2.7zM1553.8 200.5h2.7v15h-2.7zM1557.2 215.5h2.7v6.8h-2.7zM1567.6 210.1h2.7v1.4h-2.7zM1571 211.4h2.7v2.7h-2.7zM1584.8 181.4h2.7v5.5h-2.7zM1591.6 182.8h2.7v2.7h-2.7zM1595.1 185.5h2.7v2.7h-2.7zM1605.4 178.7h2.7v31.4h-2.7zM1612.3 206h2.7v15h-2.7zM1615.7 221h2.7v15h-2.7zM1622.6 223.7h2.7v14.2h-2.7zM1626 238h2.7v29.9h-2.7zM1636.4 246.1h2.7v6.9h-2.7zM1643.2 248.8h2.7v3.6h-2.7zM1657 234.3h2.7v14.5h-2.7zM1660.5 248.8h2.7v19.9h-2.7zM1670.8 253.4h2.7v2.7h-2.7zM1674.2 256.1h2.7v3.6h-2.7zM1677.6 259.7h2.7v2.7h-2.7zM1694.8 232.5h2.7v1.8h-2.7zM1701.7 232.5h2.7v29.9h-2.7zM1705.2 262.4h2.7v13.6h-2.7zM1708.6 276h2.7v12.7h-2.7zM1712 288.7h2.7v10.9h-2.7zM1715.5 299.6h2.7v1.4h-2.7zM1722.4 298.7h2.7v7.2h-2.7z" fill="#f25c50" stroke="#7d221c" stroke-width="1"/>
<circle cx="1708.6" cy="230.9" r="9.6" fill="#0b8ffc"/>
<text x="1709.2" y="235.2" text-anchor="middle" font-family='"Liberation Sans", sans-serif' font-weight="bold" font-size="14" fill="#fff">P</text>
<text x="24.2" y="570.3" font-family='"Liberation Sans", sans-serif' font-weight="bold" font-size="26.7" fill="#0a0a0a" stroke="#0a0a0a" stroke-width="0.85" textLength="113.2" lengthAdjust="spacingAndGlyphs">Investing</text>
<rect x="97.6" y="547" width="7.4" height="7.3" fill="#fff"/>
<polygon points="98.5,553.9 99.7,550.7 101.2,549.7 105,549 104.3,552.4 102.6,553.6" fill="#f8a21c"/>
<text x="137.3" y="570.4" font-family='"Liberation Sans", sans-serif' font-size="19.5" fill="#555" textLength="36.5" lengthAdjust="spacingAndGlyphs">.com</text>
<line x1="1746.9" x2="1746.9" y1="58" y2="795" stroke="#808080" stroke-width="1.8"/>
<line x1="1747" x2="1751" y1="69.6" y2="69.6" stroke="#666" stroke-width="1.3"/>
<text transform="translate(1756.7,77.3) scale(1,1.07)" font-family='"Liberation Sans", sans-serif' font-size="17.33" fill="#5a5a5a">115.00</text>
<line x1="1747" x2="1751" y1="140.3" y2="140.3" stroke="#666" stroke-width="1.3"/>
<text transform="translate(1756.7,148.0) scale(1,1.07)" font-family='"Liberation Sans", sans-serif' font-size="17.33" fill="#5a5a5a">114.50</text>
<line x1="1747" x2="1751" y1="211.0" y2="211.0" stroke="#666" stroke-width="1.3"/>
<text transform="translate(1756.7,218.7) scale(1,1.07)" font-family='"Liberation Sans", sans-serif' font-size="17.33" fill="#5a5a5a">114.00</text>
<line x1="1747" x2="1751" y1="281.7" y2="281.7" stroke="#666" stroke-width="1.3"/>
<text transform="translate(1756.7,289.4) scale(1,1.07)" font-family='"Liberation Sans", sans-serif' font-size="17.33" fill="#5a5a5a">113.50</text>
<line x1="1747" x2="1751" y1="352.4" y2="352.4" stroke="#666" stroke-width="1.3"/>
<text transform="translate(1756.7,360.1) scale(1,1.07)" font-family='"Liberation Sans", sans-serif' font-size="17.33" fill="#5a5a5a">113.00</text>
<line x1="1747" x2="1751" y1="423.1" y2="423.1" stroke="#666" stroke-width="1.3"/>
<text transform="translate(1756.7,430.8) scale(1,1.07)" font-family='"Liberation Sans", sans-serif' font-size="17.33" fill="#5a5a5a">112.50</text>
<line x1="1747" x2="1751" y1="493.8" y2="493.8" stroke="#666" stroke-width="1.3"/>
<text transform="translate(1756.7,501.5) scale(1,1.07)" font-family='"Liberation Sans", sans-serif' font-size="17.33" fill="#5a5a5a">112.00</text>
<line x1="1747" x2="1751" y1="662.0" y2="662.0" stroke="#666" stroke-width="1.3"/>
<text transform="translate(1756.7,669.1) scale(1,1.07)" font-family='"Liberation Sans", sans-serif' font-size="17.33" fill="#5a5a5a">60.0000</text>
<line x1="1747" x2="1751" y1="742.0" y2="742.0" stroke="#666" stroke-width="1.3"/>
<text transform="translate(1756.7,749.1) scale(1,1.07)" font-family='"Liberation Sans", sans-serif' font-size="17.33" fill="#5a5a5a">40.0000</text>
<rect x="1746" y="142.0" width="69" height="26" fill="#ff0000"/>
<line x1="1746" x2="1750.5" y1="155.0" y2="155.0" stroke="#fff" stroke-width="1.3"/>
<text transform="translate(1756.7,162.0) scale(1,1.07)" font-family='"Liberation Sans", sans-serif' font-size="17.33" fill="#fff" stroke="#fff" stroke-width="0.45">114.40</text>
<rect x="1746" y="283.1" width="69" height="26" fill="#4a73e8"/>
<line x1="1746" x2="1750.5" y1="296.1" y2="296.1" stroke="#fff" stroke-width="1.3"/>
<text transform="translate(1756.7,303.1) scale(1,1.07)" font-family='"Liberation Sans", sans-serif' font-size="17.33" fill="#fff" stroke="#fff" stroke-width="0.45">113.40</text>
<rect x="1746" y="309.2" width="69" height="26" fill="#eb9a9a"/>
<line x1="1746" x2="1750.5" y1="322.2" y2="322.2" stroke="#111" stroke-width="1.3"/>
<text transform="translate(1756.7,329.2) scale(1,1.07)" font-family='"Liberation Sans", sans-serif' font-size="17.33" fill="#111" stroke="#111" stroke-width="0">113.30</text>
<rect x="1746" y="453.5" width="69" height="26" fill="#ff0000"/>
<line x1="1746" x2="1750.5" y1="466.5" y2="466.5" stroke="#fff" stroke-width="1.3"/>
<text transform="translate(1756.7,473.5) scale(1,1.07)" font-family='"Liberation Sans", sans-serif' font-size="17.33" fill="#fff" stroke="#fff" stroke-width="0.45">112.20</text>
<rect x="1746" y="552.0" width="68" height="26" fill="#ff0000"/>
<line x1="1746" x2="1750.5" y1="565.0" y2="565.0" stroke="#fff" stroke-width="1.3"/>
<text transform="translate(1756.7,572.0) scale(1,1.07)" font-family='"Liberation Sans", sans-serif' font-size="17.33" fill="#fff" stroke="#fff" stroke-width="0.45">111.50</text>
<rect x="1746" y="717.0" width="80" height="26" fill="#800080"/>
<line x1="1746" x2="1750.5" y1="730.0" y2="730.0" stroke="#fff" stroke-width="1.3"/>
<text transform="translate(1756.7,736.5) scale(1,1.07)" font-family='"Liberation Sans", sans-serif' font-size="17.33" fill="#fff" stroke="#fff" stroke-width="0.45">43.0973</text>
<rect x="8" y="590" width="1818" height="2" fill="#000"/>
<text x="18.0" y="611.8" font-family='"Liberation Sans", sans-serif' font-size="15" fill="#222" textLength="45.6" lengthAdjust="spacingAndGlyphs">RSI (48)</text>
<rect x="8" y="622.5" width="1737" height="160" fill="#f2e6f4"/>
<line x1="8" x2="1745" y1="622.5" y2="622.5" stroke="#868686" stroke-width="1.15" stroke-dasharray="6 5"/>
<line x1="8" x2="1745" y1="782.5" y2="782.5" stroke="#868686" stroke-width="1.15" stroke-dasharray="6 5"/>
<polyline points="8.3,683.4 17.1,677.4 21.4,668.6 25.1,670.4 27.6,669.9 31.4,663.3 35.2,665.4 37.7,664.8 41.5,661.3 44.7,661.3 47.2,670.4 50.3,675.9 54.8,682.9 58.5,695 61.6,675.4 65.3,665.4 69.1,659.1 71.6,657.3 75.4,659.1 79.1,658.6 84.2,656.1 88.4,661.3 91.7,656.6 95,654.8 98.5,656.3 101.8,654.3 105,649.8 108.5,641.5 112.3,634.2 115.1,634.7 118.8,632.2 122.6,635.2 125.6,630.2 129.4,624.6 132.7,624.1 135.7,626.2 138.2,626.2 142,616.1 144.5,621.6 146.2,623.1 148.7,616.1 152,613.8 155.8,612.1 158.3,621.4 162.1,620.1 165.8,618.9 169.6,626.4 173.4,623.9 175.9,621.6 178.4,621.4 182.2,619.1 185.9,627.7 190.2,636.5 193.5,634.7 197.2,633.9 199.7,635.2 203.5,656.3 206,646.5 209.8,642.7 213.1,649.8 216.6,646.5 219.8,645.3 223.6,635.2 226.1,646 229.9,642.7 233.7,639 238.7,643.2 242.5,642.7 247.5,647.8 251.3,646.5 255,646.8 258.8,650.8 263.8,659.1 268.3,662.8 271.4,660.8 275.1,658.6 281.4,658.6 287.7,653.8 291.5,654.8 293.5,654 297.7,657.8 301.5,657.3 303.5,651.3 307,669.1 310.8,676.2 314.6,667.9 317.1,669.9 320.4,675.4 324.6,677.9 327.9,683.7 331.7,684.9 336.7,686.2 340.5,682.9 344.2,679.2 348,669.1 351.3,672.4 354.3,669.9 360.6,669.9 364.3,676.7 368.1,682.4 370.6,680.4 374.4,686.2 378.1,681.7 381.9,679.9 386.9,673.4 389.4,671.6 392.5,665.4 395,674.9 398.2,671.6 402,668.6 408.3,671.1 412.1,669.9 415.8,671.1 422.1,662.8 425.9,659.1 429.6,657.1 435.9,657.3 438.4,654 442.2,646.5 446,655.3 449.7,652.3 452.8,643.2 456,640.2 459.8,642.7 462.5,642.7 466.3,637.7 469.5,642.2 472.1,667.9 475.8,656.1 478.8,658.3 482.1,657.3 485.1,660.3 489.6,663.8 492.7,663.3 496.4,661.3 500.2,661.3 503.2,662.3 506.5,656.8 509.7,658.6 513.3,664.8 516.3,673.9 519.8,672.9 523.3,661.6 526.6,664.3 530.4,666.4 533.4,665.4 537.4,667.9 540.4,664.3 543.4,663.6 547.4,667.4 549.9,665.4 554.2,672.9 557.5,677.4 561,675.4 564.3,676.4 568,676.4 571.3,677.4 574.3,674.4 577.6,672.1 581.1,671.1 584.4,672.9 587.6,674.9 590.7,674.9 594.4,686 596.9,681.4 600.7,684.9 604.5,686.2 607.7,683.9 610.8,690 614.5,699.8 617.3,695.5 620.8,701.5 624.6,693 627.8,688.5 631.4,685.5 634.6,681.4 638.4,688.5 641.4,682.4 647.2,682.4 652.2,682.4 656,680.9 661,676.4 664,677.4 668,676.4 672.3,665.9 674.8,662.3 678.6,674.9 682.4,672.9 686.1,672.4 692.4,669.9 695.7,679.9 698.7,686.2 702.5,680.4 705.7,678.7 708.7,680.9 712.5,684.2 715.8,697.5 719.3,694.2 722.6,691.2 725.8,695 728.3,704.8 732.6,697.5 736.4,698.5 741.4,693.7 746.4,689.7 750.2,686.5 752.7,686.5 756,694.7 760.3,690.5 764,696 767.8,703 771.6,709.6 776.1,715.1 779.6,705.1 783.4,712.6 786.6,710.6 789.6,711.3 793.7,701.5 796.7,714.3 799.7,723.6 803.7,717.6 806.7,723.6 809.7,727.7 813.8,718.6 816.8,713.1 820.6,707.3 824.3,708.6 828.1,708.6 830.6,710.6 833.9,716.6 837.4,701.8 840.7,700 843.9,705.1 847.4,703.5 852,706.6 857,710.1 860.8,713.8 863.8,710.6 867,716.1 870.8,717.6 873.8,714.3 877.6,719.9 880.9,721.6 884.6,728.2 888.4,731.4 891.4,733.7 894.7,730.2 897.7,735.2 901.7,733.7 904.7,731.2 907.2,722.6 911,725.7 914.3,727.2 917.3,725.7 919.8,720.6 923.8,716.6 927.5,718.6 930.8,712.6 934.6,718.6 938.1,717.6 941.4,721.1 944.6,712.6 948.9,718.1 952.2,720.1 955.7,716.1 958.9,712.3 962.2,713.1 964.7,703 968.5,712.6 972.3,716.1 975.8,711.1 979,710.1 982.8,711.3 989.1,711.3 995.4,711.3 1000.4,708.6 1006.2,703 1008.4,702.5 1012.5,697.5 1016.2,698.5 1021.8,695.5 1026,698.5 1029.3,690.5 1032.6,693.7 1036.1,692.5 1039.3,692.5 1042.6,697.5 1046.1,686.7 1049.4,684.9 1052.4,678.9 1055.7,680.9 1060.2,684.9 1065.7,684.9 1070,688.7 1074.5,686.5 1078.3,685.5 1082.1,684.7 1085.3,685.5 1090.4,694 1094.6,697 1097.9,699 1100.4,698 1103.4,691.2 1107.2,697.5 1109.7,716.4 1113.5,719.9 1117.2,722.6 1119.7,713.8 1123,719.4 1126.5,717.6 1131.1,729.9 1133.6,713.6 1137.3,712.6 1141.1,713.6 1144.1,710.6 1147.4,710.1 1151.7,706.3 1157.4,707.6 1163.7,709.8 1167.5,708.8 1171.3,716.1 1175,721.1 1177.5,720.1 1181.3,723.9 1184.3,723.1 1187.6,715.6 1190.9,719.4 1195.1,716.4 1198.4,715.1 1201.4,719.9 1205.2,716.9 1208.9,712.6 1211,725.7 1214.5,729.4 1218.2,731.4 1221.5,724.9 1224.5,723.9 1228.5,724.9 1232.3,716.6 1237.8,716.6 1241.6,716.4 1244.9,712.6 1248.6,717.6 1251.7,715.6 1255.4,712.6 1258.7,713.8 1265.5,709.1 1269.2,711.3 1272.3,712.3 1276.3,705.1 1279.3,704 1282.3,701 1286.3,693 1289.3,691.7 1292.6,688.5 1296.4,681.7 1299.4,679.7 1302.7,677.4 1306.4,686.7 1309.9,691.2 1313.2,687.5 1316.5,684.7 1320,679.2 1322.8,681.4 1326.5,678.7 1329.5,676.7 1332.6,671.6 1335.8,684.9 1339.6,679.2 1343.4,683.7 1346.6,677.4 1350.2,674.1 1353.4,676.2 1356.7,668.4 1360.2,665.4 1363.5,679.9 1366.7,678.7 1370.3,677.4 1373.5,679.9 1377.3,683.4 1379.8,683.4 1383.7,683.4 1387.4,682.1 1389.9,683.6 1393.6,692.3 1397.3,700 1401,698.5 1407.2,698.5 1410.9,694.5 1414.2,691 1417.1,691 1420.8,701.9 1424.1,703.9 1427,702.4 1430.7,723.7 1434,721.2 1437.4,722.5 1441.1,722.5 1444.9,732.4 1448.1,729.9 1451.8,725 1457.2,711.3 1460.4,712.3 1465.4,708.9 1467.1,709.6 1471.1,703.9 1474.1,703.4 1477.8,698.5 1482.7,698.5 1487.7,698.5 1491.4,697.2 1494.4,697.2 1498.3,704.4 1501.3,703.9 1505,706.9 1508.2,709.9 1511.7,707.4 1514.9,705.1 1518.1,707.4 1522.3,700.9 1525.5,703.2 1528.5,705.9 1532.2,705.1 1534.7,712.3 1538.4,704.4 1542.1,697.7 1545.3,688.6 1550.8,688.6 1552.8,690 1555.7,697 1558.7,700.9 1562.7,695.2 1565.6,694.8 1569.4,696 1572.6,696 1575.5,691 1579.3,684.1 1582.5,679.2 1585.9,682.1 1589.7,680.1 1592.9,682.6 1596.6,683.6 1600.3,680.1 1602.8,679.2 1605.7,698.5 1609.7,696 1612.2,703.9 1615.6,711.8 1619.4,706.4 1623.1,712.3 1626.3,726.2 1630,724.5 1633.2,715.3 1636.2,719.3 1639.9,716.3 1643.6,717.5 1647.3,715.8 1651,712.6 1654.3,708.4 1656.7,708.9 1660.2,715 1663.9,723.7 1667.1,716.8 1670.8,716.3 1675.8,718.3 1680,720.2 1684,711.3 1688.2,708.4 1693.9,703.4 1696.8,704.4 1701,700.2 1703.5,716.8 1706.7,722.5 1710.4,728.7 1714.2,734.1 1717.1,735.3 1720.8,732.4 1724.1,736.1 1727.8,729.9" fill="none" stroke="#a846b2" stroke-width="1" stroke-linejoin="round"/>
<line x1="8" x2="1747.8" y1="794" y2="794" stroke="#808080" stroke-width="1.8"/>
<line x1="69.3" x2="69.3" y1="794" y2="798.2" stroke="#666" stroke-width="1.3"/>
<text transform="translate(69.3,817) scale(1,1.07)" text-anchor="middle" font-family='"Liberation Sans", sans-serif' font-size="17.33" fill="#5a5a5a">9</text>
<line x1="235.0" x2="235.0" y1="794" y2="798.2" stroke="#666" stroke-width="1.3"/>
<text transform="translate(235.0,817) scale(1,1.07)" text-anchor="middle" font-family='"Liberation Sans", sans-serif' font-size="17.33" fill="#5a5a5a">13</text>
<line x1="396.0" x2="396.0" y1="794" y2="798.2" stroke="#666" stroke-width="1.3"/>
<text transform="translate(396.0,817) scale(1,1.07)" text-anchor="middle" font-family='"Liberation Sans", sans-serif' font-size="17.33" fill="#5a5a5a">15</text>
<line x1="564.7" x2="564.7" y1="794" y2="798.2" stroke="#666" stroke-width="1.3"/>
<text transform="translate(564.7,817) scale(1,1.07)" text-anchor="middle" font-family='"Liberation Sans", sans-serif' font-size="17.33" fill="#5a5a5a">19</text>
<line x1="728.0" x2="728.0" y1="794" y2="798.2" stroke="#666" stroke-width="1.3"/>
<text transform="translate(728.0,817) scale(1,1.07)" text-anchor="middle" font-family='"Liberation Sans", sans-serif' font-size="17.33" fill="#5a5a5a">21</text>
<line x1="888.5" x2="888.5" y1="794" y2="798.2" stroke="#666" stroke-width="1.3"/>
<text transform="translate(888.5,817) scale(1,1.07)" text-anchor="middle" font-family='"Liberation Sans", sans-serif' font-size="17.33" fill="#5a5a5a">23</text>
<line x1="1057.6" x2="1057.6" y1="794" y2="798.2" stroke="#666" stroke-width="1.3"/>
<text transform="translate(1057.6,817) scale(1,1.07)" text-anchor="middle" font-family='"Liberation Sans", sans-serif' font-size="17.33" fill="#5a5a5a">27</text>
<line x1="1178.5" x2="1178.5" y1="794" y2="798.2" stroke="#666" stroke-width="1.3"/>
<text transform="translate(1178.5,817) scale(1,1.07)" text-anchor="middle" font-family='"Liberation Sans", sans-serif' font-size="17.33" fill="#5a5a5a">12:00</text>
<line x1="1320.6" x2="1320.6" y1="794" y2="798.2" stroke="#666" stroke-width="1.3"/>
<text x="1321.1" y="817" text-anchor="middle" font-family='"Liberation Sans", "Noto Sans CJK JP", sans-serif' font-weight="bold" font-size="17.5" fill="#444">11月</text>
<line x1="1468.2" x2="1468.2" y1="794" y2="798.2" stroke="#666" stroke-width="1.3"/>
<text transform="translate(1468.2,817) scale(1,1.07)" text-anchor="middle" font-family='"Liberation Sans", sans-serif' font-size="17.33" fill="#5a5a5a">3</text>
<line x1="1630.9" x2="1630.9" y1="794" y2="798.2" stroke="#666" stroke-width="1.3"/>
<text transform="translate(1630.9,817) scale(1,1.07)" text-anchor="middle" font-family='"Liberation Sans", sans-serif' font-size="17.33" fill="#5a5a5a">5</text>
<clipPath id="c"><rect x="1700" y="796" width="45.5" height="32"/></clipPath>
<g clip-path="url(#c)"><text transform="translate(1724.0,817) scale(1,1.07)" font-family='"Liberation Sans", sans-serif' font-size="17.33" fill="#5a5a5a">10:00</text></g>
</svg>
</body></html>
